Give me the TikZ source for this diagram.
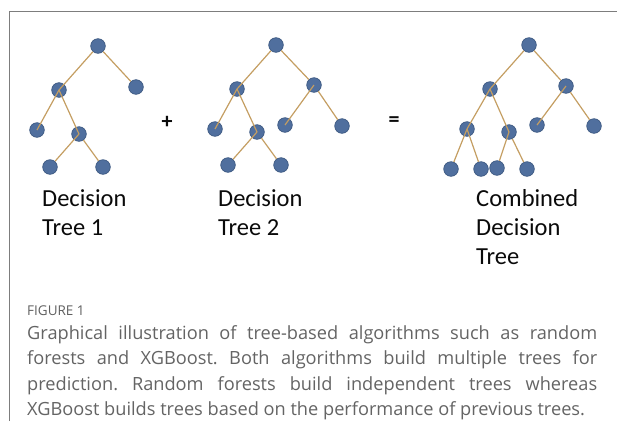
\documentclass[tikz,border=0pt]{standalone}
\usepackage{fontspec}
\setmainfont{Carlito}
\newfontfamily\capfont{Open Sans}
\begin{document}
\begin{tikzpicture}[x=1pt,y=-1pt,
  leaf/.style={circle,inner sep=0pt,minimum size=14.6pt,fill={rgb,255:red,80;green,111;blue,158},draw={rgb,255:red,62;green,90;blue,130},line width=0.7pt},
  edge/.style={draw={rgb,255:red,196;green,158;blue,98},line width=1.2pt},
  lbl/.style={anchor=base west,inner sep=0pt,font=\fontsize{24.5}{28}\selectfont,text={rgb,255:red,10;green,10;blue,10}},
  op/.style={inner sep=0pt,font=\bfseries\fontsize{22}{24}\selectfont,text={rgb,255:red,10;green,10;blue,10}},
  frame/.style={draw={rgb,255:red,125;green,125;blue,125},line width=1pt}]
\useasboundingbox (0,0) rectangle (617,421);
% frame
\coordinate (fa) at (9.5,421);
\coordinate (fb) at (9.5,11.5);
\coordinate (fc) at (617,11.5);
\draw[frame] (fa) -- (fb) -- (fc);
% tree 1
\node[leaf] (a0) at (98,46) {};
\node[leaf] (a1) at (59,90) {};
\node[leaf] (a2) at (136,87) {};
\node[leaf] (a3) at (37,130) {};
\node[leaf] (a4) at (79,134) {};
\node[leaf] (a5) at (50,167) {};
\node[leaf] (a6) at (103,167) {};
\draw[edge] (a0) -- (a1.center);
\draw[edge] (a0) -- (a2);
\draw[edge] (a1.center) -- (a3.center);
\draw[edge] (a1.center) -- (a4.center);
\draw[edge] (a4.center) -- (a5);
\draw[edge] (a4) -- (a6);
% tree 2
\node[leaf] (b0) at (276,45) {};
\node[leaf] (b1) at (237,89) {};
\node[leaf] (b2) at (314,85) {};
\node[leaf] (b3) at (215,129) {};
\node[leaf] (b4) at (257,132) {};
\node[leaf] (b5) at (228,165) {};
\node[leaf] (b6) at (281,165) {};
\node[leaf] (b7) at (285,125) {};
\node[leaf] (b8) at (342,126) {};
\draw[edge] (b0) -- (b1.center);
\draw[edge] (b0) -- (b2);
\draw[edge] (b1.center) -- (b3.center);
\draw[edge] (b1.center) -- (b4.center);
\draw[edge] (b4.center) -- (b5);
\draw[edge] (b4) -- (b6);
\draw[edge] (b2.center) -- (b7.center);
\draw[edge] (b2) -- (b8);
% combined tree
\node[leaf] (c0) at (529,45) {};
\node[leaf] (c1) at (490,89) {};
\node[leaf] (c2) at (566,86) {};
\node[leaf] (c3) at (467,129) {};
\node[leaf] (c4) at (509,132) {};
\node[leaf] (c5) at (537,125) {};
\node[leaf] (c6) at (594,126) {};
\node[leaf] (c7) at (451,169) {};
\node[leaf] (c8) at (481,169) {};
\node[leaf] (c9) at (497,168) {};
\node[leaf] (c10) at (527,169) {};
\draw[edge] (c0) -- (c1.center);
\draw[edge] (c0) -- (c2);
\draw[edge] (c1.center) -- (c3.center);
\draw[edge] (c1.center) -- (c4.center);
\draw[edge] (c2.center) -- (c5.center);
\draw[edge] (c2) -- (c6);
\draw[edge] (c3.center) -- (c7);
\draw[edge] (c3.center) -- (c8);
\draw[edge] (c4.center) -- (c9);
\draw[edge] (c4) -- (c10);
% operators
\node[op] (plus) at (167,122) {+};
\node[op] (eq) at (394,122) {=};
% labels
\node[lbl] (l1a) at (42,206) {Decision};
\node[lbl] (l1b) at (42,235) {Tree 1};
\node[lbl] (l2a) at (218,206) {Decision};
\node[lbl] (l2b) at (218,235) {Tree 2};
\node[lbl] (l3a) at (476,206) {Combined};
\node[lbl] (l3b) at (476,235) {Decision};
\node[lbl] (l3c) at (476,264) {Tree};
% caption
\node[anchor=base west,inner sep=0pt,font=\capfont\fontsize{13.5}{15}\selectfont,text={rgb,255:red,95;green,95;blue,95}] (fig) at (27,315) {FIGURE 1};
\node[anchor=base west,inner sep=0pt,font=\capfont\fontsize{18.2}{25.4}\selectfont,text={rgb,255:red,100;green,100;blue,100}] (cap) at (27,339.5)
{\begin{minipage}[t]{570pt}\parindent=0pt\frenchspacing
Graphical illustration of tree-based algorithms such as random\linebreak
forests and XGBoost. Both algorithms build multiple trees for\linebreak
prediction. Random forests build independent trees whereas\linebreak
XGBoost builds trees based on the performance of previous trees.
\end{minipage}};
\end{tikzpicture}
\end{document}
